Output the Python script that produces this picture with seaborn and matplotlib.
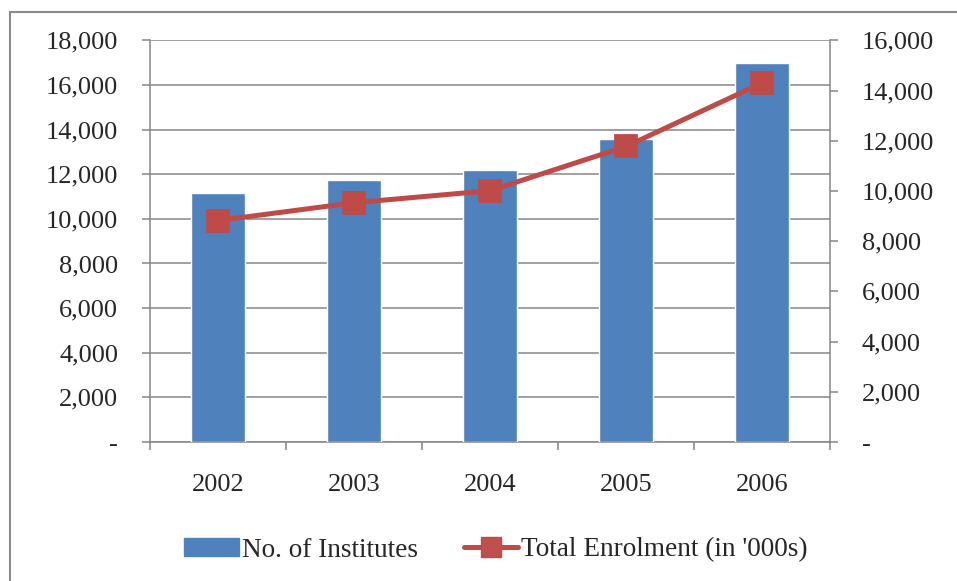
import matplotlib
matplotlib.use("Agg")
import matplotlib.pyplot as plt
import matplotlib.ticker as mticker
from matplotlib.patches import Patch, Rectangle
from matplotlib.lines import Line2D
import seaborn as sns
import pandas as pd
import numpy as np

# Data
years = ["2002", "2003", "2004", "2005", "2006"]
institutes = [11140, 11760, 12170, 13590, 16970]
enrolment = [8820, 9530, 10010, 11770, 14300]

BAR_COLOR = "#4F81BD"
LINE_COLOR = "#BE4B48"
GRID_COLOR = "#868686"

df = pd.DataFrame({"year": years, "institutes": institutes, "enrolment": enrolment})

sns.set_theme(style="white")
plt.rcParams["font.family"] = ["Liberation Serif", "DejaVu Serif"]
plt.rcParams["font.size"] = 19

fig = plt.figure(figsize=(9.57, 5.81), dpi=100)
ax = fig.add_axes([150 / 957, 1 - 442 / 581, 680 / 957, (442 - 40.3) / 581])

sns.barplot(data=df, x="year", y="institutes", color=BAR_COLOR, width=0.4,
            saturation=1, ax=ax, zorder=3)
ax.set_xlim(-0.5, 4.5)
ax.set_ylim(0, 18000)
ax.set_xlabel("")
ax.set_ylabel("")

ax2 = ax.twinx()
sns.pointplot(data=df, x="year", y="enrolment", color=LINE_COLOR, markers="s",
              linestyles="-", markersize=14, linewidth=3.6, ax=ax2)
ax2.set_xlim(-0.5, 4.5)
ax2.set_ylim(0, 16000)
ax2.set_ylabel("")

def fmt(v, pos):
    return "-" if v == 0 else f"{int(v):,}"

ax.yaxis.set_major_locator(mticker.MultipleLocator(2000))
ax2.yaxis.set_major_locator(mticker.MultipleLocator(2000))
ax.yaxis.set_major_formatter(mticker.FuncFormatter(fmt))
ax2.yaxis.set_major_formatter(mticker.FuncFormatter(fmt))

ax.grid(axis="y", color=GRID_COLOR, linewidth=1.1, zorder=0)
ax.set_axisbelow(True)

for a in (ax, ax2):
    a.spines["top"].set_visible(False)
    for side in ("left", "right", "bottom"):
        a.spines[side].set_color(GRID_COLOR)
        a.spines[side].set_linewidth(1.1)
ax.spines["right"].set_visible(False)
ax2.spines["left"].set_visible(False)
ax2.spines["bottom"].set_visible(False)

ax.tick_params(axis="y", direction="out", length=6, width=1.1, color=GRID_COLOR,
               pad=17, labelsize=19, left=True)
ax2.tick_params(axis="y", direction="out", length=6, width=1.1, color=GRID_COLOR,
                pad=17, labelsize=19, right=True)
ax.xaxis.set_minor_locator(mticker.FixedLocator(np.arange(-0.5, 5, 1.0)))
ax.tick_params(axis="x", which="major", length=0, pad=23, labelsize=19)
ax.tick_params(axis="x", which="minor", direction="out", length=6, width=1.1,
               color=GRID_COLOR, bottom=True)

# outer chart border
fig.patches.append(Rectangle((10 / 957, -0.02), 1.0, 1 - 12 / 581 + 0.02,
                             transform=fig.transFigure, fill=False,
                             edgecolor="#8C8C8C", linewidth=1.5))

handles = [Patch(facecolor=BAR_COLOR, edgecolor=BAR_COLOR),
           Line2D([0], [0], color=LINE_COLOR, linewidth=3.6, marker="s",
                  markersize=14, markerfacecolor="#C0504D")]
fig.legend(handles, ["No. of Institutes", "Total Enrolment (in '000s)"],
           loc="center", bbox_to_anchor=(496 / 957, 1 - 550 / 581), ncol=2,
           frameon=False, handlelength=2.0, handleheight=0.6,
           handletextpad=0.1, columnspacing=1.7, fontsize=19.6)

fig.savefig("out.png", dpi=100)
